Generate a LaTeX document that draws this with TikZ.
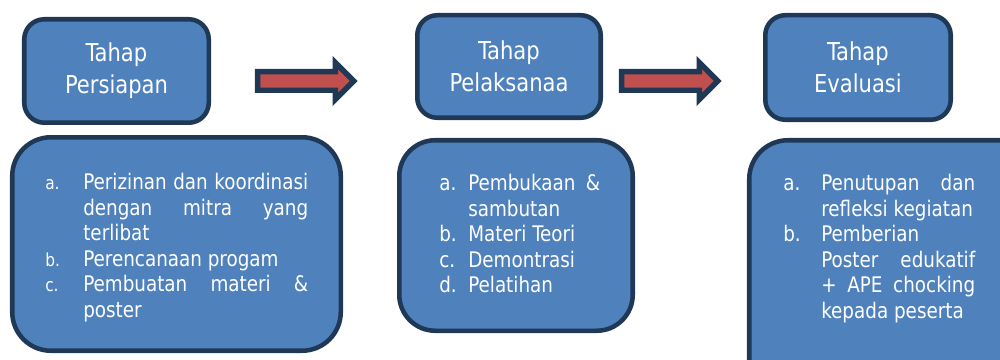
\documentclass[tikz,border=0pt]{standalone}
\usepackage{fontspec}
\setmainfont[FakeStretch=0.95]{DejaVu Sans Condensed}
\usepackage{xcolor}
\usetikzlibrary{shapes.arrows}
\usetikzlibrary{positioning}

\definecolor{boxblue}{HTML}{4F81BD}
\definecolor{boxline}{HTML}{1F3855}
\definecolor{arrowred}{HTML}{C0504D}

\newcommand{\itm}[3]{\par\noindent\hangindent=#1\hangafter=1\makebox[#1][l]{#2}\strut#3\par}

\begin{document}
\begin{tikzpicture}[x=0.75pt,y=-0.75pt,
    tahap/.style={draw=boxline, fill=boxblue, line width=3.4pt, rounded corners=15pt,
        text=white, align=center, font=\fontsize{18.5}{24}\selectfont, inner sep=0pt},
    isibox/.style={draw=boxline, fill=boxblue, line width=3.4pt, inner sep=0pt},
    isitxt/.style={anchor=north west, inner sep=0pt, text=white, align=justify,
        font=\fontsize{16.1}{19.1}\selectfont},
    panah/.style={single arrow, draw=boxline, fill=arrowred, line width=4.1pt,
        inner xsep=0pt, inner ysep=4.9pt, text height=0pt, text depth=0pt,
        single arrow head extend=6.75pt, minimum height=72pt}
]
    \useasboundingbox (0,0) rectangle (1000,360);
    \clip (0,0) rectangle (1000,360);

    \node[tahap, minimum width=138.4pt, minimum height=77.6pt] (persiapan) at (116.5,71) {Tahap\\Persiapan};
    \node[tahap, minimum width=137.6pt, minimum height=76.9pt] (pelaksanaan) at (509,66.5) {Tahap\\Pelaksanaa};
    \node[tahap, minimum width=139.1pt, minimum height=78.4pt] (evaluasi) at (858,67.5) {Tahap\\Evaluasi};

    \node[panah] (panah1) at (301,81) {};
    \node[panah] (panah2) at (665,81) {};

    \node[isibox, rounded corners=29pt, minimum width=246.4pt, minimum height=160.1pt] (isi1) at (176.5,244) {};
    \node[isibox, rounded corners=27pt, minimum width=175.1pt, minimum height=142.9pt] (isi2) at (516,235.5) {};
    \node[isibox, rounded corners=29pt, minimum width=225pt, minimum height=225pt] (isi3) at (899.25,290.25) {};

    \node[isitxt, text width=197.25pt] (daftar1) at (45,164.2) {%
        \itm{28.5pt}{\fontsize{13.5}{19.1}\selectfont a.}{Perizinan dan koordinasi\linebreak dengan mitra yang\linebreak terlibat}
        \itm{28.5pt}{\fontsize{13.5}{19.1}\selectfont b.}{Perencanaan progam}
        \itm{28.5pt}{\fontsize{13.5}{19.1}\selectfont c.}{Pembuatan materi \&\linebreak poster}};
    \node[isitxt, text width=120.75pt] (daftar2) at (439,165.2) {%
        \itm{21.75pt}{a.}{Pembukaan \&\linebreak sambutan}
        \itm{21.75pt}{b.}{Materi Teori}
        \itm{21.75pt}{c.}{Demontrasi}
        \itm{21.75pt}{d.}{Pelatihan}};
    \node[isitxt, text width=144pt] (daftar3) at (783,165.2) {%
        \itm{28.5pt}{a.}{Penutupan dan\linebreak refleksi kegiatan}
        \itm{28.5pt}{b.}{Pemberian\newline Poster edukatif\linebreak + APE chocking\linebreak kepada peserta}};
\end{tikzpicture}
\end{document}
